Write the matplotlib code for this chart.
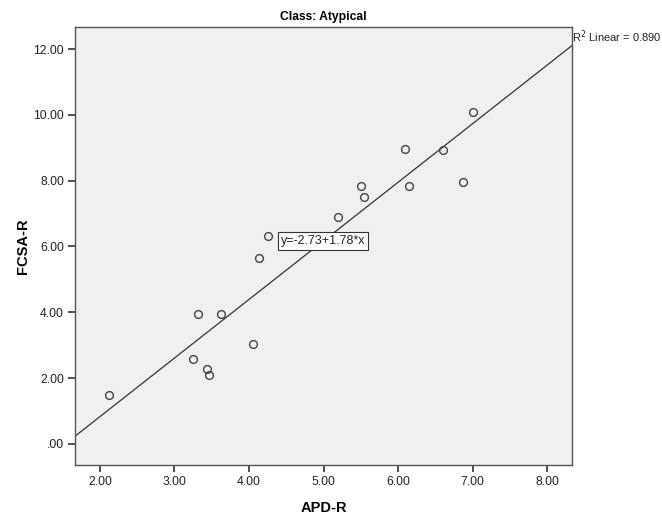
import matplotlib
matplotlib.use("Agg")
import matplotlib.pyplot as plt
import numpy as np

plt.rcParams['font.family'] = ['Liberation Sans', 'DejaVu Sans']

apd_r = [2.12, 3.25, 3.44, 3.47, 3.32, 3.62, 4.05, 4.13, 4.26, 5.19, 5.54, 5.50, 6.15, 6.09, 6.87, 6.61, 7.00]
fcsa_r = [1.50, 2.59, 2.27, 2.09, 3.95, 3.96, 3.04, 5.64, 6.32, 6.90, 7.49, 7.83, 7.84, 8.96, 7.96, 8.92, 10.08]
intercept = -2.73
slope = 1.78
r2_text = "R$^2$ Linear = 0.890"
eq_text = "y=-2.73+1.78*x"
x_ticks = [2, 3, 4, 5, 6, 7, 8]
y_ticks = [0, 2, 4, 6, 8, 10, 12]

fig = plt.figure(figsize=(6.62, 5.17), dpi=100)
ax = fig.add_axes([75/662, 52/517, 497/662, 438/517])
ax.set_facecolor('#F0F0F0')
xlim = (1.665, 8.335)
ylim = (-0.64, 12.67)
ax.set_xlim(*xlim)
ax.set_ylim(*ylim)

xs = np.array(xlim)
ax.plot(xs, intercept + slope * xs, color='#333333', lw=0.9, zorder=2)
ax.plot(apd_r, fcsa_r, 'o', mfc='none', mec='#444444', mew=1.0, ms=5.6, zorder=3)

def fmt(v):
    s = f"{v:.2f}"
    return s[1:] if s.startswith("0") else s

ax.set_xticks(x_ticks)
ax.set_xticklabels([fmt(v) for v in x_ticks])
ax.set_yticks(y_ticks)
ax.set_yticklabels([fmt(v) for v in y_ticks])
ax.tick_params(direction='out', length=5, width=1.2, color='#333333', labelsize=8.7, labelcolor='#222222', pad=3)
for s in ax.spines.values():
    s.set_color('#555555')
    s.set_linewidth(1.0)

ax.set_title("Class: Atypical", fontsize=8.7, fontweight='bold', pad=5)
ax.set_xlabel("APD-R", fontsize=10.5, fontweight='bold')
ax.set_ylabel("FCSA-R", fontsize=10.5, fontweight='bold')
ax.xaxis.set_label_coords(0.5, -0.083)
ax.yaxis.set_label_coords(-0.105, 0.5)
ax.yaxis.label.set_va('center')
ax.xaxis.label.set_va('top')

ax.text(4.99, 6.17, eq_text, fontsize=9, ha='center', va='center', color='#222222',
        bbox=dict(boxstyle='square,pad=0.22', fc='white', ec='#333333', lw=0.8), zorder=4)

fig.text(572/662, 1 - 37/517, r2_text, fontsize=8, ha='left', va='center', color='#222222')

fig.savefig("out.png", dpi=100)
